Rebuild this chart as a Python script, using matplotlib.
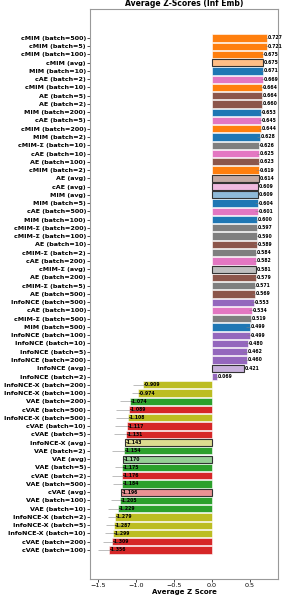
import numpy as np
import matplotlib
matplotlib.use("Agg")
import matplotlib.pyplot as plt

# Bars, top to bottom
labels = [
    "cMIM (batch=500)", "cMIM (batch=5)", "cMIM (batch=100)", "cMIM (avg)",
    "MIM (batch=10)", "cAE (batch=2)", "cMIM (batch=10)", "AE (batch=5)",
    "AE (batch=2)", "MIM (batch=200)", "cAE (batch=5)", "cMIM (batch=200)",
    "MIM (batch=2)", "cMIM-Σ (batch=10)", "cAE (batch=10)", "AE (batch=100)",
    "cMIM (batch=2)", "AE (avg)", "cAE (avg)", "MIM (avg)",
    "MIM (batch=5)", "cAE (batch=500)", "MIM (batch=100)", "cMIM-Σ (batch=200)",
    "cMIM-Σ (batch=100)", "AE (batch=10)", "cMIM-Σ (batch=2)", "cAE (batch=200)",
    "cMIM-Σ (avg)", "AE (batch=200)", "cMIM-Σ (batch=5)", "AE (batch=500)",
    "InfoNCE (batch=500)", "cAE (batch=100)", "cMIM-Σ (batch=500)", "MIM (batch=500)",
    "InfoNCE (batch=100)", "InfoNCE (batch=10)", "InfoNCE (batch=5)", "InfoNCE (batch=200)",
    "InfoNCE (avg)", "InfoNCE (batch=2)", "InfoNCE-X (batch=200)", "InfoNCE-X (batch=100)",
    "VAE (batch=200)", "cVAE (batch=500)", "InfoNCE-X (batch=500)", "cVAE (batch=10)",
    "cVAE (batch=5)", "InfoNCE-X (avg)", "VAE (batch=2)", "VAE (avg)",
    "VAE (batch=5)", "cVAE (batch=2)", "VAE (batch=500)", "cVAE (avg)",
    "VAE (batch=100)", "VAE (batch=10)", "InfoNCE-X (batch=2)", "InfoNCE-X (batch=5)",
    "InfoNCE-X (batch=10)", "cVAE (batch=200)", "cVAE (batch=100)",
]

scores = [
    0.727, 0.721, 0.675, 0.675, 0.671, 0.669, 0.664, 0.664,
    0.660, 0.653, 0.645, 0.644, 0.628, 0.626, 0.625, 0.623,
    0.619, 0.614, 0.609, 0.609, 0.604, 0.601, 0.600, 0.597,
    0.590, 0.589, 0.584, 0.582, 0.581, 0.579, 0.571, 0.569,
    0.553, 0.534, 0.519, 0.499, 0.499, 0.480, 0.462, 0.460,
    0.421, 0.069, -0.909, -0.974, -1.074, -1.089, -1.108, -1.117,
    -1.131, -1.143, -1.154, -1.170, -1.175, -1.176, -1.184, -1.196,
    -1.205, -1.229, -1.279, -1.287, -1.299, -1.309, -1.356,
]

# std errors (0 for the averaged bars)
errors = [
    0.02, 0.02, 0.03, 0.0, 0.02, 0.02, 0.03, 0.03,
    0.03, 0.03, 0.03, 0.03, 0.03, 0.03, 0.03, 0.03,
    0.04, 0.0, 0.0, 0.0, 0.03, 0.03, 0.03, 0.03,
    0.03, 0.03, 0.04, 0.03, 0.0, 0.03, 0.03, 0.04,
    0.04, 0.04, 0.04, 0.05, 0.04, 0.04, 0.05, 0.05,
    0.0, 0.04, 0.13, 0.08, 0.13, 0.17, 0.15, 0.16,
    0.16, 0.0, 0.16, 0.0, 0.10, 0.13, 0.12, 0.0,
    0.12, 0.14, 0.08, 0.11, 0.11, 0.12, 0.14,
]

method_colors = {
    "MIM": "tab:blue", "cMIM": "tab:orange", "VAE": "tab:green",
    "cVAE": "tab:red", "InfoNCE": "tab:purple", "AE": "tab:brown",
    "cAE": "tab:pink", "cMIM-Σ": "tab:gray", "InfoNCE-X": "tab:olive",
}

plt.rcParams["font.family"] = ["DejaVu Sans"]

fig = plt.figure(figsize=(2.86, 5.98), dpi=100)
ax = fig.add_axes([0.315, 0.032, 0.657, 0.953])

y = np.arange(len(labels))
for i, (lab, v, e) in enumerate(zip(labels, scores, errors)):
    method = lab.split(" (")[0]
    c = method_colors[method]
    if "(avg)" in lab:
        ax.barh(i, v, height=0.85, color=c, alpha=0.5, edgecolor="none")
        ax.barh(i, v, height=0.85, color="none", edgecolor="#333333", linewidth=0.8)
    else:
        ax.barh(i, v, height=0.88, color=c, edgecolor="white", linewidth=0.4)
        ax.errorbar(v, i, xerr=e, fmt="none", ecolor="gray", elinewidth=0.6,
                    alpha=0.6, capsize=0)
    ax.text(v + 0.01, i, f"{v:.3f}", ha="left", va="center",
            fontsize=3.3, fontweight="bold")

ax.set_yticks(y)
ax.set_yticklabels(labels, fontsize=4.6, fontweight="bold")
ax.set_ylim(len(labels) - 1 + 3.5, -3.5)
ax.set_xlim(-1.6, 0.87)
ax.set_xticks([-1.5, -1.0, -0.5, 0.0, 0.5])
ax.tick_params(axis="x", labelsize=4.6, length=2, width=0.5, pad=1)
ax.tick_params(axis="y", length=2, width=0.5, pad=1)
ax.set_xlabel("Average Z Score", fontsize=5, fontweight="bold", labelpad=0.5)
ax.set_title("Average Z-Scores (Inf Emb)", fontsize=5.5, fontweight="bold", pad=2)
for s in ax.spines.values():
    s.set_color("#999999")
    s.set_linewidth(0.8)

fig.savefig("out.png", dpi=100)
